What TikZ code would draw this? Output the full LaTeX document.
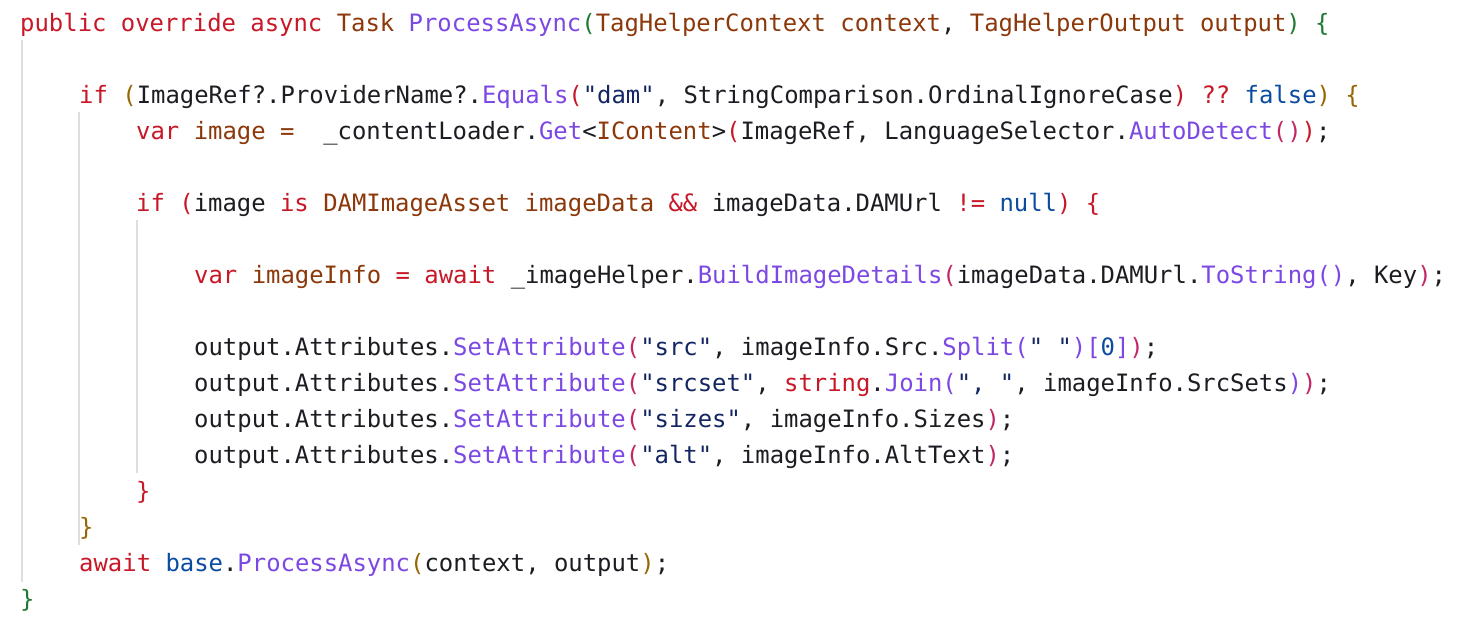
\documentclass[tikz,border=0pt]{standalone}
\usepackage{fontspec}
\newfontfamily\codefont{DejaVu Sans Mono}
\definecolor{ckw}{RGB}{200,24,40}
\definecolor{cty}{RGB}{140,56,10}
\definecolor{cfn}{RGB}{124,72,228}
\definecolor{cst}{RGB}{20,38,98}
\definecolor{clit}{RGB}{12,76,160}
\definecolor{cgr}{RGB}{30,122,50}
\definecolor{cgd}{RGB}{150,102,0}
\definecolor{cmg}{RGB}{192,40,100}
\definecolor{cpl}{RGB}{28,28,34}
\definecolor{cguide}{RGB}{222,222,222}
\newcommand\K[1]{\textcolor{ckw}{#1}}
\newcommand\T[1]{\textcolor{cty}{#1}}
\newcommand\F[1]{\textcolor{cfn}{#1}}
\newcommand\St[1]{\textcolor{cst}{#1}}
\newcommand\Li[1]{\textcolor{clit}{#1}}
\newcommand\G[1]{\textcolor{cgr}{#1}}
\newcommand\Gd[1]{\textcolor{cgd}{#1}}
\newcommand\M[1]{\textcolor{cmg}{#1}}
\tikzset{codeline/.style={anchor=base west,inner sep=0pt,text=cpl,font=\codefont\fontsize{23.9}{36}\selectfont},
guide/.style={draw=cguide,line width=1.5pt}}
\begin{document}
\begin{tikzpicture}[x=1pt,y=-1pt]
\useasboundingbox (0,0) rectangle (1470,622);
\fill[white] (0,0) rectangle (1470,622);
\draw[guide] (22,40) -- (22,582);
\draw[guide] (79,112) -- (79,545);
\draw[guide] (137,220) -- (137,473);
\node[codeline] (l0) at (20,31) {\K{public}\ \K{override}\ \K{async}\ \T{Task}\ \F{ProcessAsync}\G{(}\T{TagHelperContext}\ \T{context},\ \T{TagHelperOutput}\ \T{output}\G{)}\ \G{\{}};
\node[codeline] (l2) at (79,103) {\K{if}\ \Gd{(}ImageRef?.ProviderName?.\F{Equals}\K{(}\St{"dam"},\ StringComparison.OrdinalIgnoreCase\K{)}\ \K{??}\ \Li{false}\Gd{)}\ \Gd{\{}};
\node[codeline] (l3) at (136,139) {\K{var}\ \T{image}\ \T{=}\ \ \_contentLoader.\F{Get}<\T{IContent}>\K{(}ImageRef,\ LanguageSelector.\F{AutoDetect}\M{()}\K{)};};
\node[codeline] (l5) at (136,211) {\K{if}\ \K{(}image\ \K{is}\ \T{DAMImageAsset}\ \T{imageData}\ \K{\&\&}\ imageData.DAMUrl\ \K{!=}\ \Li{null}\K{)}\ \K{\{}};
\node[codeline] (l7) at (194,283) {\K{var}\ \T{imageInfo}\ \K{=}\ \K{await}\ \_imageHelper.\F{BuildImageDetails}\M{(}imageData.DAMUrl.\F{ToString}\F{()},\ Key\M{)};};
\node[codeline] (l9) at (194,355) {output.Attributes.\F{SetAttribute}\M{(}\St{"src"},\ imageInfo.Src.\F{Split}\F{(}\St{"\ "}\F{)}\F{[}\Li{0}\F{]}\M{)};};
\node[codeline] (l10) at (194,391) {output.Attributes.\F{SetAttribute}\M{(}\St{"srcset"},\ \K{string}.\F{Join}\F{(}\St{",\ "},\ imageInfo.SrcSets\F{)}\M{)};};
\node[codeline] (l11) at (194,427) {output.Attributes.\F{SetAttribute}\M{(}\St{"sizes"},\ imageInfo.Sizes\M{)};};
\node[codeline] (l12) at (194,463) {output.Attributes.\F{SetAttribute}\M{(}\St{"alt"},\ imageInfo.AltText\M{)};};
\node[codeline] (l13) at (136,499) {\K{\}}};
\node[codeline] (l14) at (79,535) {\Gd{\}}};
\node[codeline] (l15) at (79,571) {\K{await}\ \Li{base}.\F{ProcessAsync}\Gd{(}context,\ output\Gd{)};};
\node[codeline] (l16) at (20,607) {\G{\}}};
\end{tikzpicture}
\end{document}
